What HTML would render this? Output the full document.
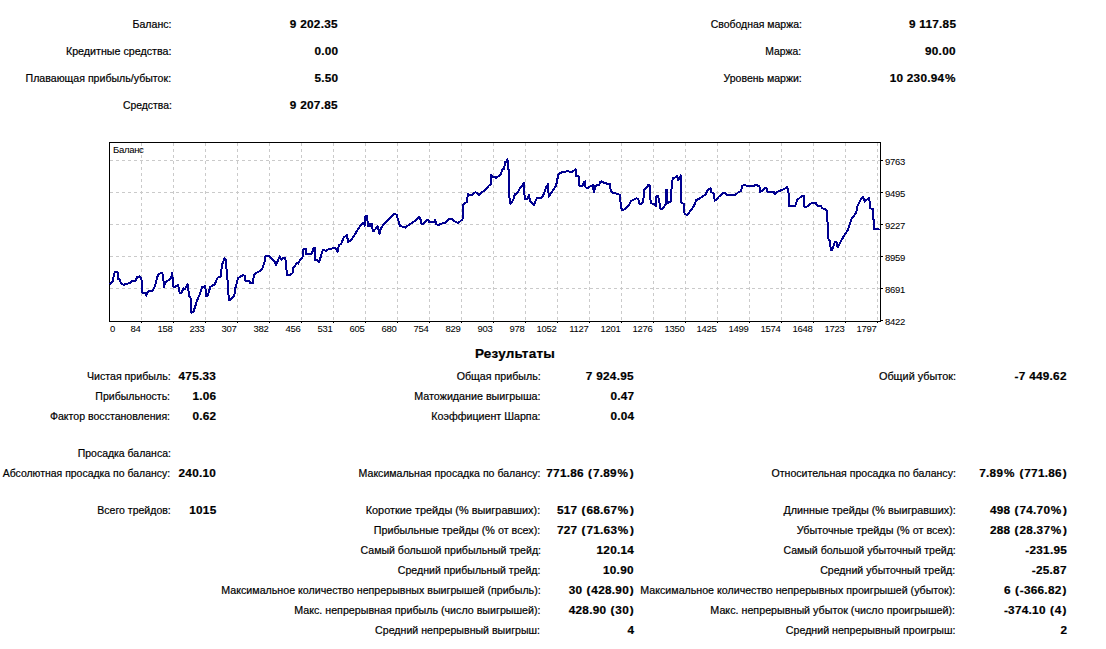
<!DOCTYPE html>
<html><head><meta charset="utf-8"><style>
html,body{margin:0;padding:0;background:#fff;width:1106px;height:649px;overflow:hidden;position:relative}
div{position:absolute;white-space:nowrap;font-family:"Liberation Sans",sans-serif;color:#000;-webkit-text-stroke:0.2px #000}
.r{font-size:11px;line-height:11px;letter-spacing:0px;transform:scaleX(0.962);transform-origin:100% 0}
.b{font-size:11px;line-height:11px;font-weight:bold;letter-spacing:0.25px;transform:scaleX(1.07);transform-origin:100% 0}
.t{font-size:12.5px;line-height:12px;font-weight:bold;text-align:center;letter-spacing:0.2px;transform:scaleX(1.08);transform-origin:50% 0}
i{font-style:normal;margin:0 0.6px}
em{font-style:normal;margin-left:0.8px}
.a{font-size:9.5px;line-height:9px;letter-spacing:-0.3px;-webkit-text-stroke:0.05px #000}
</style></head><body>
<div class="r" style="right:934.5px;top:19.2px;transform:scaleX(0.9622)">Баланс:</div>
<div class="b" style="right:768.0px;top:19.2px">9 202.35</div>
<div class="r" style="right:934.5px;top:46.2px;transform:scaleX(0.9732)">Кредитные средства:</div>
<div class="b" style="right:768.0px;top:46.2px">0.00</div>
<div class="r" style="right:934.5px;top:73.2px;transform:scaleX(0.9633)">Плавающая прибыль/убыток:</div>
<div class="b" style="right:768.0px;top:73.2px">5.50</div>
<div class="r" style="right:934.5px;top:100.2px;transform:scaleX(0.9426)">Средства:</div>
<div class="b" style="right:768.0px;top:100.2px">9 207.85</div>
<div class="r" style="right:304.5px;top:19.2px;transform:scaleX(0.9515)">Свободная маржа:</div>
<div class="b" style="right:150.0px;top:19.2px">9 117.85</div>
<div class="r" style="right:304.5px;top:46.2px;transform:scaleX(0.9410)">Маржа:</div>
<div class="b" style="right:150.0px;top:46.2px">90.00</div>
<div class="r" style="right:304.5px;top:73.2px;transform:scaleX(0.9571)">Уровень маржи:</div>
<div class="b" style="right:150.0px;top:73.2px">10 230.94<i>%</i></div>
<div class="r" style="right:935.5px;top:370.7px;transform:scaleX(0.9667)">Чистая прибыль:</div>
<div class="b" style="right:890.0px;top:370.7px">475.33</div>
<div class="r" style="right:935.5px;top:390.7px;transform:scaleX(0.9568)">Прибыльность:</div>
<div class="b" style="right:890.0px;top:390.7px">1.06</div>
<div class="r" style="right:935.5px;top:410.7px;transform:scaleX(0.9604)">Фактор восстановления:</div>
<div class="b" style="right:890.0px;top:410.7px">0.62</div>
<div class="r" style="right:935.5px;top:447.7px;transform:scaleX(0.9517)">Просадка баланса:</div>
<div class="r" style="right:935.5px;top:467.7px;transform:scaleX(0.9507)">Абсолютная просадка по балансу:</div>
<div class="b" style="right:890.0px;top:467.7px">240.10</div>
<div class="r" style="right:935.5px;top:504.7px;transform:scaleX(0.9568)">Всего трейдов:</div>
<div class="b" style="right:890.0px;top:504.7px">1015</div>
<div class="r" style="right:565.5px;top:370.7px;transform:scaleX(0.9690)">Общая прибыль:</div>
<div class="b" style="right:472.0px;top:370.7px">7 924.95</div>
<div class="r" style="right:565.5px;top:390.7px;transform:scaleX(0.9745)">Матожидание выигрыша:</div>
<div class="b" style="right:472.0px;top:390.7px">0.47</div>
<div class="r" style="right:565.5px;top:410.7px;transform:scaleX(0.9709)">Коэффициент Шарпа:</div>
<div class="b" style="right:472.0px;top:410.7px">0.04</div>
<div class="r" style="right:565.5px;top:467.7px;transform:scaleX(0.9599)">Максимальная просадка по балансу:</div>
<div class="b" style="right:472.0px;top:467.7px">771.86 <i>(</i>7.89<i>%</i><em>)</em></div>
<div class="r" style="right:565.5px;top:504.7px;transform:scaleX(0.9904)">Короткие трейды (% выигравших):</div>
<div class="b" style="right:472.0px;top:504.7px">517 <i>(</i>68.67<i>%</i><em>)</em></div>
<div class="r" style="right:565.5px;top:524.7px;transform:scaleX(0.9785)">Прибыльные трейды (% от всех):</div>
<div class="b" style="right:472.0px;top:524.7px">727 <i>(</i>71.63<i>%</i><em>)</em></div>
<div class="r" style="right:565.5px;top:544.7px;transform:scaleX(0.9599)">Самый большой прибыльный трейд:</div>
<div class="b" style="right:472.0px;top:544.7px">120.14</div>
<div class="r" style="right:565.5px;top:564.7px;transform:scaleX(0.9607)">Средний прибыльный трейд:</div>
<div class="b" style="right:472.0px;top:564.7px">10.90</div>
<div class="r" style="right:565.5px;top:584.7px;transform:scaleX(0.9687)">Максимальное количество непрерывных выигрышей (прибыль):</div>
<div class="b" style="right:472.0px;top:584.7px">30 <i>(</i>428.90<em>)</em></div>
<div class="r" style="right:565.5px;top:604.7px;transform:scaleX(0.9715)">Макс. непрерывная прибыль (число выигрышей):</div>
<div class="b" style="right:472.0px;top:604.7px">428.90 <i>(</i>30<em>)</em></div>
<div class="r" style="right:565.5px;top:624.7px;transform:scaleX(0.9643)">Средний непрерывный выигрыш:</div>
<div class="b" style="right:472.0px;top:624.7px">4</div>
<div class="r" style="right:150.5px;top:370.7px;transform:scaleX(0.9879)">Общий убыток:</div>
<div class="b" style="right:39.0px;top:370.7px">-7 449.62</div>
<div class="r" style="right:150.5px;top:467.7px;transform:scaleX(0.9610)">Относительная просадка по балансу:</div>
<div class="b" style="right:39.0px;top:467.7px">7.89<i>%</i> <i>(</i>771.86<em>)</em></div>
<div class="r" style="right:150.5px;top:504.7px;transform:scaleX(0.9803)">Длинные трейды (% выигравших):</div>
<div class="b" style="right:39.0px;top:504.7px">498 <i>(</i>74.70<i>%</i><em>)</em></div>
<div class="r" style="right:150.5px;top:524.7px;transform:scaleX(0.9830)">Убыточные трейды (% от всех):</div>
<div class="b" style="right:39.0px;top:524.7px">288 <i>(</i>28.37<i>%</i><em>)</em></div>
<div class="r" style="right:150.5px;top:544.7px;transform:scaleX(0.9587)">Самый большой убыточный трейд:</div>
<div class="b" style="right:39.0px;top:544.7px">-231.95</div>
<div class="r" style="right:150.5px;top:564.7px;transform:scaleX(0.9634)">Средний убыточный трейд:</div>
<div class="b" style="right:39.0px;top:564.7px">-25.87</div>
<div class="r" style="right:150.5px;top:584.7px;transform:scaleX(0.9682)">Максимальное количество непрерывных проигрышей (убыток):</div>
<div class="b" style="right:39.0px;top:584.7px">6 <i>(</i>-366.82<em>)</em></div>
<div class="r" style="right:150.5px;top:604.7px;transform:scaleX(0.9748)">Макс. непрерывный убыток (число проигрышей):</div>
<div class="b" style="right:39.0px;top:604.7px">-374.10 <i>(</i>4<em>)</em></div>
<div class="r" style="right:150.5px;top:624.7px;transform:scaleX(0.9666)">Средний непрерывный проигрыш:</div>
<div class="b" style="right:39.0px;top:624.7px">2</div>
<div class="t" style="left:0;width:1030px;top:348px">Результаты</div>
<svg width="1106" height="649" style="position:absolute;left:0;top:0">
<g stroke="#cacaca" stroke-width="1" stroke-dasharray="3 3" shape-rendering="crispEdges"><line x1="141.5" y1="143" x2="141.5" y2="320" /><line x1="173.5" y1="143" x2="173.5" y2="320" /><line x1="205.5" y1="143" x2="205.5" y2="320" /><line x1="237.5" y1="143" x2="237.5" y2="320" /><line x1="269.5" y1="143" x2="269.5" y2="320" /><line x1="301.5" y1="143" x2="301.5" y2="320" /><line x1="333.5" y1="143" x2="333.5" y2="320" /><line x1="365.5" y1="143" x2="365.5" y2="320" /><line x1="397.5" y1="143" x2="397.5" y2="320" /><line x1="429.5" y1="143" x2="429.5" y2="320" /><line x1="461.5" y1="143" x2="461.5" y2="320" /><line x1="493.5" y1="143" x2="493.5" y2="320" /><line x1="525.5" y1="143" x2="525.5" y2="320" /><line x1="557.5" y1="143" x2="557.5" y2="320" /><line x1="589.5" y1="143" x2="589.5" y2="320" /><line x1="621.5" y1="143" x2="621.5" y2="320" /><line x1="653.5" y1="143" x2="653.5" y2="320" /><line x1="685.5" y1="143" x2="685.5" y2="320" /><line x1="717.5" y1="143" x2="717.5" y2="320" /><line x1="749.5" y1="143" x2="749.5" y2="320" /><line x1="781.5" y1="143" x2="781.5" y2="320" /><line x1="813.5" y1="143" x2="813.5" y2="320" /><line x1="845.5" y1="143" x2="845.5" y2="320" /><line x1="877.5" y1="143" x2="877.5" y2="320" /><line x1="110" y1="160.5" x2="880" y2="160.5" /><line x1="110" y1="192.5" x2="880" y2="192.5" /><line x1="110" y1="224.5" x2="880" y2="224.5" /><line x1="110" y1="256.5" x2="880" y2="256.5" /><line x1="110" y1="288.5" x2="880" y2="288.5" /></g>
<rect x="109.5" y="142.5" width="771" height="179" fill="none" stroke="#000" stroke-width="1" shape-rendering="crispEdges"/>
<g stroke="#000" stroke-width="1" shape-rendering="crispEdges"><line x1="141.5" y1="322" x2="141.5" y2="323" /><line x1="173.5" y1="322" x2="173.5" y2="323" /><line x1="205.5" y1="322" x2="205.5" y2="323" /><line x1="237.5" y1="322" x2="237.5" y2="323" /><line x1="269.5" y1="322" x2="269.5" y2="323" /><line x1="301.5" y1="322" x2="301.5" y2="323" /><line x1="333.5" y1="322" x2="333.5" y2="323" /><line x1="365.5" y1="322" x2="365.5" y2="323" /><line x1="397.5" y1="322" x2="397.5" y2="323" /><line x1="429.5" y1="322" x2="429.5" y2="323" /><line x1="461.5" y1="322" x2="461.5" y2="323" /><line x1="493.5" y1="322" x2="493.5" y2="323" /><line x1="525.5" y1="322" x2="525.5" y2="323" /><line x1="557.5" y1="322" x2="557.5" y2="323" /><line x1="589.5" y1="322" x2="589.5" y2="323" /><line x1="621.5" y1="322" x2="621.5" y2="323" /><line x1="653.5" y1="322" x2="653.5" y2="323" /><line x1="685.5" y1="322" x2="685.5" y2="323" /><line x1="717.5" y1="322" x2="717.5" y2="323" /><line x1="749.5" y1="322" x2="749.5" y2="323" /><line x1="781.5" y1="322" x2="781.5" y2="323" /><line x1="813.5" y1="322" x2="813.5" y2="323" /><line x1="845.5" y1="322" x2="845.5" y2="323" /><line x1="877.5" y1="322" x2="877.5" y2="323" /><line x1="881" y1="160.5" x2="883" y2="160.5" /><line x1="881" y1="192.5" x2="883" y2="192.5" /><line x1="881" y1="224.5" x2="883" y2="224.5" /><line x1="881" y1="256.5" x2="883" y2="256.5" /><line x1="881" y1="288.5" x2="883" y2="288.5" /><line x1="881" y1="320.5" x2="883" y2="320.5" /></g>
<polyline points="109.6,284 112.9,281.3 113.9,274.8 115,272.1 117.7,272.1 118.2,279.1 119.9,279.6 121,283.4 123.6,285 125.3,284 129,283.4 132.8,280.7 135.5,281.3 137.1,277 139.8,276.4 141.4,278 142.5,292.6 145.7,293.1 146.3,295.8 147.9,291.5 151.1,291 152.2,291.5 154.4,287.2 156,282.3 157.1,277 158.7,274.3 161.9,272.6 163,274.8 164.1,287.2 165.1,282.3 168.4,280.2 171.1,278 172.2,272.6 173.2,286.7 175.4,286.7 178.1,285 179.7,293.1 181.3,293.1 183.5,288.3 185,288.7 187.5,284.4 189.3,296.1 190.5,297.3 191.2,312.7 193.6,311.5 196.7,301.6 199.8,294.2 202.3,286.8 205.3,286.2 206.2,296.1 207.8,295.5 210.3,286.8 214.6,284.4 217.7,277.6 220.8,276.4 222,264.7 224.4,258.5 225.7,259.7 227.5,279.5 228.8,299.8 230.6,299.8 234.3,295.5 235.5,287.5 238,278.2 242.9,275.1 244.8,275.8 245.4,280.7 249.1,280.7 250.3,283.2 252.8,283.2 254,274.5 259,271.4 262,269.6 262.5,268 264.9,261.2 265.5,255.7 268.6,255.7 271.1,258.1 274.8,261.8 276,265.5 277.3,261.8 279.7,256.3 281.6,260 282.8,257.5 285.3,257.5 285.9,264.9 287.1,275.4 289.6,275.4 292.7,272.9 293.3,268 295.7,264.9 297,263.1 298.2,263.7 298.8,261.8 302.5,256.9 303.1,249.5 306.2,248.9 306.2,253.8 311.8,253.8 313.6,247.7 314.9,247.7 314.9,260 317.9,260.6 319.2,261.8 321,255.7 322.9,250.1 326.6,250.7 327.8,249.5 332.7,248.3 335.2,247.7 337,250.7 337.6,251.6 338.8,245.5 341.3,243.6 343.8,237.5 346.9,235 348.1,241.8 350.6,240.5 353,237.5 356.7,231.3 360.4,225.7 363.5,222.7 364.7,225.7 365.4,216.5 367.2,215.9 367.8,226.4 369.7,226.4 370.3,223.9 372.1,223.9 372.7,230.7 374,230.7 377.7,226.4 379.5,233.8 380.8,228.2 385.1,222.7 388.8,219.6 393.7,214 396.8,214.7 397.4,217.7 399.9,225.7 403.6,227 405.4,227.6 408.5,225.1 413.4,222 416.5,219.6 419.3,216.8 420.5,219.3 421.2,223.6 423.6,223.6 426.7,219.9 428.6,220.5 429.2,222.4 434.7,221.8 435.3,219.9 436,224.2 439,224.9 441.5,223.6 445.8,222.4 449.5,218.7 452,219.3 454.4,221.2 458.1,223 462.5,219.3 462.5,205.1 464.3,203.3 466.8,202 468,194 471.1,195.3 475.4,192.2 479.1,194.7 482.2,192.2 485.9,189.1 489,185.4 490.8,184.2 490.8,174.9 492.7,176.8 496.3,177.7 498.8,175.9 501.2,174 501.9,169.7 504.3,168.5 504.9,162.3 506.2,161.7 507.4,159.2 508.6,170.3 509.3,196.8 510.5,203.6 513,200.5 514.8,194.4 517.9,192.5 519.7,188.8 522.2,185.7 524,182.7 524.7,199.3 527.7,198.7 529,195 530.2,201.8 532.1,203 534,205.5 535.1,201.8 537,198.1 541.9,197.5 543.8,193.8 546.2,187 548.1,183.9 548.7,196.8 551.2,193.1 553.6,189.4 556.1,185.7 557.3,179.6 558.6,174 562.3,172.2 566,171.6 567.2,171 571.5,172.2 573.7,170.7 575.5,169.1 576.2,175.9 578.6,176.5 579.2,185.7 582.3,185.7 584.2,182 585.4,181.4 585.4,187 587.3,188.2 590.3,186.4 592.8,185.1 594,192.5 595.3,185.7 599,185.1 600.2,182 602,181.4 604.5,183.3 610.1,183.9 610.7,190.7 613.1,193.1 617.5,193.8 619.9,195 620.5,201.8 621.8,210.4 623.6,209.8 627.9,206.7 631,201.2 636.6,198.1 638.4,199.3 639.6,204.2 641.5,204.2 643.3,201.2 644,189.4 647,187.6 648.3,184.5 649.5,184.5 650.1,198.2 651.3,203.1 654.4,204.4 655.6,206.2 656.2,196.4 658.1,195.7 659.3,201.9 660.6,209.3 662.4,209.3 664.9,205.6 665.6,204.4 665.6,189.6 667,190.2 667.6,203.1 670.6,201.3 671.2,189.6 672.1,187.1 672.6,178.5 675.4,177.3 677.2,176 678.4,180.3 679.7,177.9 680.9,175.4 681.5,203.1 684,203.8 684.6,214.2 687.7,214.9 689.5,211.8 691.4,209.9 693.8,206.2 696.3,200.1 700,198.2 703.7,195.7 705.6,194.5 707.4,190.2 710.5,188.4 711.1,192 713.6,193.3 714.8,200.7 716.6,199.4 719.1,196.4 722.8,193.3 725.3,193.3 726.5,195.1 734.9,195.1 737.9,192.7 741,190.8 742.3,185.9 744.1,184.7 747.2,185.9 754,185.9 755.2,184.7 757,184.7 758.3,185.9 759.5,186.5 760.1,192 762,190.8 765.1,187.7 766.9,189 767.5,192 773.7,192 774.9,193.9 778,191.4 782.9,189.6 787.2,187.1 788.5,192.7 789.1,206.2 795.3,205.6 797.1,200.1 801.4,196.4 803.8,196 803.8,206.5 806.9,206.5 811.2,203.4 815.6,202.8 817.4,205.9 821.1,205.9 822.3,208.4 825.4,209 826.7,210.8 827.9,226.8 828.5,239.2 829.7,240.4 831,250.3 832.2,249.6 834.7,242.2 836.5,242.2 837.7,247.2 841.4,240.4 844.5,234.9 848.2,229.3 851.3,219.4 856.2,212.7 857.5,205.9 860.6,199.7 863,197.3 864.9,201.6 866.7,199.7 869.2,197.9 870.4,208.4 872.9,209 874.1,229.3 877.2,229.3 879.5,228.7" fill="none" stroke="#000090" stroke-width="2" stroke-linejoin="round" shape-rendering="crispEdges"/>
</svg>
<div class="a" style="left:110px;top:323.7px">0</div>
<div class="a" style="right:965.5px;top:323.7px">84</div>
<div class="a" style="right:933.5px;top:323.7px">158</div>
<div class="a" style="right:901.5px;top:323.7px">233</div>
<div class="a" style="right:869.5px;top:323.7px">307</div>
<div class="a" style="right:837.5px;top:323.7px">382</div>
<div class="a" style="right:805.5px;top:323.7px">456</div>
<div class="a" style="right:773.5px;top:323.7px">531</div>
<div class="a" style="right:741.5px;top:323.7px">605</div>
<div class="a" style="right:709.5px;top:323.7px">680</div>
<div class="a" style="right:677.5px;top:323.7px">754</div>
<div class="a" style="right:645.5px;top:323.7px">829</div>
<div class="a" style="right:613.5px;top:323.7px">903</div>
<div class="a" style="right:581.5px;top:323.7px">978</div>
<div class="a" style="right:549.5px;top:323.7px">1052</div>
<div class="a" style="right:517.5px;top:323.7px">1127</div>
<div class="a" style="right:485.5px;top:323.7px">1201</div>
<div class="a" style="right:453.5px;top:323.7px">1276</div>
<div class="a" style="right:421.5px;top:323.7px">1350</div>
<div class="a" style="right:389.5px;top:323.7px">1425</div>
<div class="a" style="right:357.5px;top:323.7px">1499</div>
<div class="a" style="right:325.5px;top:323.7px">1574</div>
<div class="a" style="right:293.5px;top:323.7px">1648</div>
<div class="a" style="right:261.5px;top:323.7px">1723</div>
<div class="a" style="right:229.5px;top:323.7px">1797</div>
<div class="a" style="left:885px;top:156.9px">9763</div>
<div class="a" style="left:885px;top:188.9px">9495</div>
<div class="a" style="left:885px;top:220.9px">9227</div>
<div class="a" style="left:885px;top:252.9px">8959</div>
<div class="a" style="left:885px;top:284.9px">8691</div>
<div class="a" style="left:885px;top:316.9px">8422</div>
<div class="a" style="left:113px;top:144.5px">Баланс</div>
</body></html>
